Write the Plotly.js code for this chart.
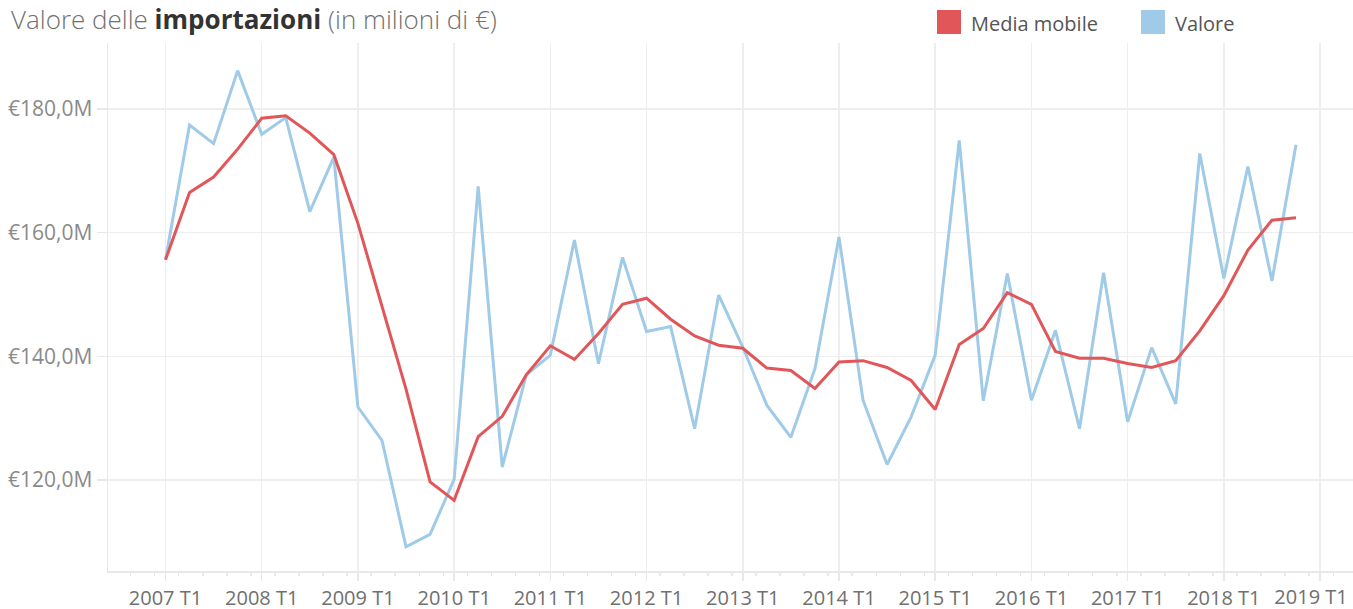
<!DOCTYPE html>
<html>
<head>
<meta charset="utf-8">
<script src="https://cdn.plot.ly/plotly-3.0.1.min.js"></script>
<style>html,body{margin:0;padding:0;background:#fff;}#chart{width:1353px;height:609px;}</style>
</head>
<body>
<div id="chart"></div>
<script>
// Quarters (x categories)
var quarters = [
  "2007 T1","2007 T2","2007 T3","2007 T4",
  "2008 T1","2008 T2","2008 T3","2008 T4",
  "2009 T1","2009 T2","2009 T3","2009 T4",
  "2010 T1","2010 T2","2010 T3","2010 T4",
  "2011 T1","2011 T2","2011 T3","2011 T4",
  "2012 T1","2012 T2","2012 T3","2012 T4",
  "2013 T1","2013 T2","2013 T3","2013 T4",
  "2014 T1","2014 T2","2014 T3","2014 T4",
  "2015 T1","2015 T2","2015 T3","2015 T4",
  "2016 T1","2016 T2","2016 T3","2016 T4",
  "2017 T1","2017 T2","2017 T3","2017 T4",
  "2018 T1","2018 T2","2018 T3","2018 T4"
];
var extraCategory = ["2019 T1"];

// Valore (milioni di €)
var valore = [155.6,177.4,174.4,186.2,175.9,178.6,163.4,172.2,
              131.8,126.4,109.2,111.2,120.1,167.5,122.1,137.0,
              140.2,158.8,138.8,156.0,144.0,144.8,128.3,149.9,
              141.5,132.1,126.9,138.0,159.3,132.9,122.5,130.2,
              140.2,174.9,132.8,153.4,132.9,144.2,128.3,153.5,
              129.4,141.4,132.3,172.8,152.6,170.7,152.2,174.2];

// Media mobile (milioni di €)
var mediaMobile = [155.6,166.5,169.0,173.5,178.5,178.9,176.1,172.6,
                   161.5,148.3,134.7,119.7,116.7,127.0,130.3,137.0,
                   141.7,139.5,143.7,148.4,149.4,146.0,143.3,141.8,
                   141.3,138.1,137.7,134.8,139.1,139.3,138.2,136.1,
                   131.4,141.9,144.5,150.3,148.4,140.8,139.7,139.7,
                   138.85,138.2,139.3,144.1,149.8,157.2,162.0,162.4];

// Tick labels
var xTickLabels = ["2007 T1","2008 T1","2009 T1","2010 T1","2011 T1","2012 T1","2013 T1",
                   "2014 T1","2015 T1","2016 T1","2017 T1","2018 T1","2019 T1"];
var yTickValues = [120,140,160,180];
var yTickLabels = ["€120,0M","€140,0M","€160,0M","€180,0M"];

var seriesNames = ["Media mobile","Valore"];
var seriesColors = ["#e15759","#a0cbe8"];

var lastIdx = xTickLabels.length - 1;
// main axis shows all year labels but the last one; the last one is drawn on an
// overlay axis nudged left (as in the original) so that it stays inside the frame
var xTickText = xTickLabels.map(function (t, i) { return i === lastIdx ? '' : t; });

var xRange = [-2.39, 49.37];
var minorTicks = [];
for (var n = -2; n <= 48; n++) { minorTicks.push(n + 0.55); }

var gridC = '#eeeeee';
var FONT = 'Open Sans, Noto Sans, sans-serif';

var traces = [
  {type:'scatter', mode:'lines', name:seriesNames[1], x:quarters, y:valore,
   line:{color:seriesColors[1], width:3}, showlegend:false, hoverinfo:'x+y'},
  {type:'scatter', mode:'lines', name:seriesNames[0], x:quarters, y:mediaMobile,
   line:{color:seriesColors[0], width:3}, showlegend:false, hoverinfo:'x+y'},
  {type:'scatter', mode:'lines', x:[], y:[], xaxis:'x2', yaxis:'y', showlegend:false, hoverinfo:'skip'},
  {type:'scatter', mode:'lines', x:[], y:[], xaxis:'x3', yaxis:'y', showlegend:false, hoverinfo:'skip'}
];

var plotW = 1353 - 108, plotH = 609 - 43 - 38;
function px(X){ return (X - 108) / plotW; }
function py(Y){ return (571 - Y) / plotH; }

var layout = {
  width:1353, height:609,
  margin:{l:108, r:0, t:43, b:38},
  paper_bgcolor:'#ffffff', plot_bgcolor:'#ffffff',
  font:{family:FONT},
  title:{
    text:'Valore delle <b><span style="color:#333333">importazioni</span></b> (in milioni di €)',
    font:{family:FONT, size:26, color:'#707070', weight:300},
    x:11/1353, xanchor:'left', xref:'container',
    y:0.968, yanchor:'middle', yref:'container'
  },
  xaxis:{
    type:'category', categoryorder:'array', categoryarray:quarters.concat(extraCategory),
    range:xRange, tickmode:'array', tickvals:xTickLabels, ticktext:xTickText,
    ticks:'outside', ticklen:8, tickwidth:1.5, tickcolor:'#e8e8e8',
    showgrid:true, gridcolor:gridC, gridwidth:1.5,
    showline:true, linecolor:'#e8e8e8', linewidth:1.5,
    zeroline:false, tickangle:0,
    tickfont:{family:FONT, size:20, color:'#707070'}
  },
  xaxis2:{
    type:'linear', overlaying:'x', anchor:'y', side:'bottom',
    range:xRange, tickmode:'array', tickvals:minorTicks,
    ticks:'outside', ticklen:4, tickwidth:1.5, tickcolor:'#e8e8e8',
    showticklabels:false, showgrid:false, zeroline:false, showline:false
  },
  xaxis3:{
    type:'category', categoryorder:'array', categoryarray:quarters.concat(extraCategory),
    overlaying:'x', anchor:'y', side:'bottom',
    range:xRange, tickmode:'array', tickvals:[xTickLabels[lastIdx]], ticktext:[xTickLabels[lastIdx]],
    ticks:'outside', ticklen:8, tickcolor:'rgba(0,0,0,0)', ticklabelshift:-9,
    showgrid:false, zeroline:false, showline:false, tickangle:0,
    tickfont:{family:FONT, size:20, color:'#707070'}
  },
  yaxis:{
    range:[105.28, 190.67], tickmode:'array', tickvals:yTickValues, ticktext:yTickLabels,
    ticks:'outside', ticklen:10, tickwidth:1.5, tickcolor:'#e8e8e8',
    showgrid:true, gridcolor:gridC, gridwidth:1.5,
    showline:true, linecolor:'#e8e8e8', linewidth:1.5,
    zeroline:false,
    tickfont:{family:FONT, size:21, color:'#8a8a8a'}
  },
  showlegend:false,
  shapes:[
    {type:'rect', xref:'paper', yref:'paper', x0:px(937), x1:px(961), y0:py(34), y1:py(10),
     fillcolor:seriesColors[0], line:{width:0}},
    {type:'rect', xref:'paper', yref:'paper', x0:px(1141), x1:px(1165), y0:py(34), y1:py(10),
     fillcolor:seriesColors[1], line:{width:0}}
  ],
  annotations:[
    {text:seriesNames[0], xref:'paper', yref:'paper', x:px(969), y:py(23), xanchor:'left', yanchor:'middle',
     showarrow:false, font:{family:FONT, size:20, color:'#555555'}},
    {text:seriesNames[1], xref:'paper', yref:'paper', x:px(1173), y:py(23), xanchor:'left', yanchor:'middle',
     showarrow:false, font:{family:FONT, size:20, color:'#555555'}}
  ]
};

Plotly.newPlot('chart', traces, layout, {displayModeBar:false, staticPlot:true});
</script>
</body>
</html>
